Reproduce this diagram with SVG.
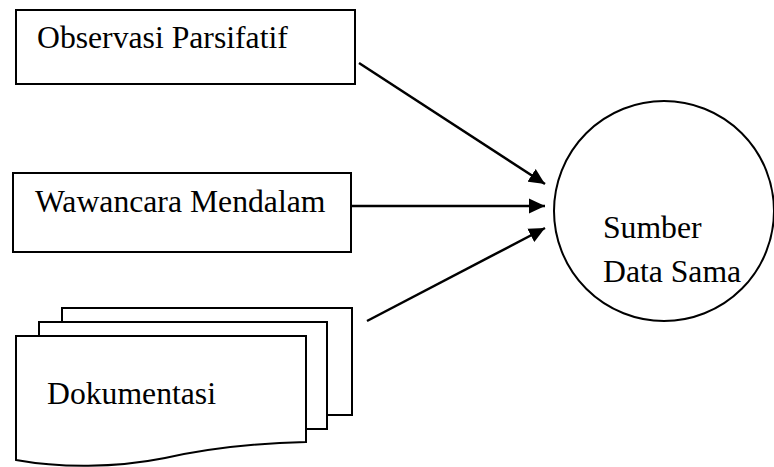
<svg xmlns="http://www.w3.org/2000/svg" width="774" height="467" viewBox="0 0 774 467">
<style>
.box{fill:#fff;stroke:#000;stroke-width:2}
.lbl{font-family:"Liberation Serif","Times New Roman",serif;font-size:31.7px;fill:#000}
.conn{stroke:#000;stroke-width:2.5;fill:none}
</style>
<defs>
<marker id="ah" markerUnits="userSpaceOnUse" markerWidth="16" markerHeight="16" viewBox="0 0 16 16" refX="16" refY="8" orient="auto">
<path d="M0,0.5 L16,8 L0,15.5 Z" fill="#000"/>
</marker>
</defs>
<rect width="774" height="467" fill="#fff"/>
<g id="observasi">
<rect class="box" x="16" y="10" width="339" height="74"/>
<text class="lbl" x="37" y="48">Observasi Parsifatif</text>
</g>
<g id="wawancara">
<rect class="box" x="13" y="173" width="338" height="79"/>
<text class="lbl" x="35" y="212">Wawancara Mendalam</text>
</g>
<g id="dokumentasi">
<rect class="box" x="62" y="308" width="290" height="107"/>
<rect class="box" x="39" y="322" width="288" height="107"/>
<path class="box" d="M16,336 L306,336 L306,442 C260,443 210,448 165,458 C115,468 60,468 16,460 Z"/>
<text class="lbl" x="47" y="404">Dokumentasi</text>
</g>
<g id="sumber">
<circle class="box" cx="664" cy="211" r="110"/>
<text class="lbl" x="603" y="238">Sumber</text>
<text class="lbl" x="603" y="282">Data Sama</text>
</g>
<g id="connectors">
<line class="conn" x1="359" y1="63" x2="545" y2="184" marker-end="url(#ah)"/>
<line class="conn" x1="352" y1="206" x2="545" y2="206" marker-end="url(#ah)"/>
<line class="conn" x1="367" y1="321" x2="545" y2="228" marker-end="url(#ah)"/>
</g>
</svg>
